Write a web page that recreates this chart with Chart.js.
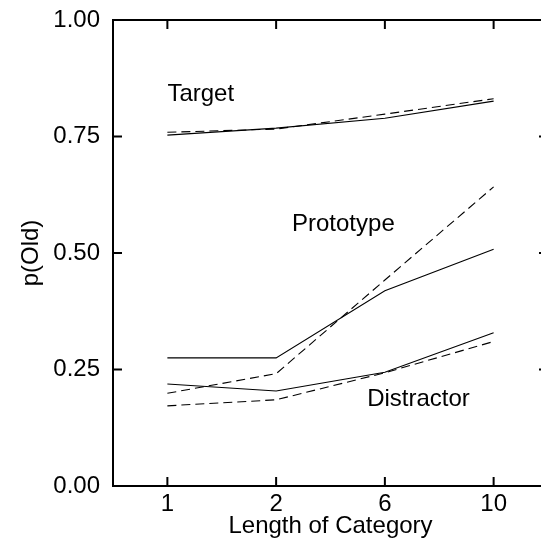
<!DOCTYPE html>
<html>
<head>
<meta charset="utf-8">
<script src="https://cdn.jsdelivr.net/npm/chart.js@4/dist/chart.umd.min.js"></script>
<style>
  html, body { margin: 0; padding: 0; background: #fff; overflow: hidden; }
  #wrap { width: 541px; height: 539px; overflow: hidden; }
  #chart { display: block; width: 560px; height: 539px; }
</style>
</head>
<body>
<div id="wrap"><canvas id="chart" width="560" height="539"></canvas></div>
<script>
// category lengths on the x axis
const lengths = ["1", "2", "6", "10"];
const yTicks = [0, 0.25, 0.5, 0.75, 1];

// solid lines
const targetObserved = [0.753, 0.768, 0.789, 0.826];
const prototypeObserved = [0.275, 0.275, 0.419, 0.508];
const distractorObserved = [0.219, 0.204, 0.244, 0.329];

// dashed lines
const targetPredicted = [0.759, 0.766, 0.798, 0.831];
const prototypePredicted = [0.199, 0.241, 0.442, 0.642];
const distractorPredicted = [0.172, 0.185, 0.243, 0.310];

// text labels inside the plot (x = category index, y = baseline value)
const curveLabels = [
  { text: "Target", x: 0, y: 0.826 },
  { text: "Prototype", x: 1.146, y: 0.547 },
  { text: "Distractor", x: 1.837, y: 0.172 },
];

const FONT = "'Liberation Sans', Arial, sans-serif";
const FSIZE = 24;

function line(data, dashed) {
  return {
    data: data,
    borderColor: "#000",
    borderWidth: 1.1,
    borderDash: dashed ? [9, 5] : [],
    pointRadius: 0,
    fill: false,
    tension: 0,
  };
}

// frame on top/right plus inward tick marks, and curve labels
const framePlugin = {
  id: "frame",
  afterDraw(chart) {
    const { ctx, chartArea: a, scales } = chart;
    ctx.save();
    ctx.strokeStyle = "#000";
    ctx.lineWidth = 2;
    ctx.beginPath();
    ctx.moveTo(a.left, a.top);
    ctx.lineTo(a.right, a.top);
    ctx.lineTo(a.right, a.bottom);
    ctx.stroke();

    const tl = 9;
    ctx.beginPath();
    yTicks.forEach((v) => {
      const py = scales.y.getPixelForValue(v);
      ctx.moveTo(a.left, py);
      ctx.lineTo(a.left + tl, py);
      ctx.moveTo(a.right, py);
      ctx.lineTo(a.right - tl, py);
    });
    lengths.forEach((c, i) => {
      const px = scales.x.getPixelForValue(i);
      ctx.moveTo(px, a.bottom);
      ctx.lineTo(px, a.bottom - tl);
      ctx.moveTo(px, a.top);
      ctx.lineTo(px, a.top + tl);
    });
    ctx.stroke();

    ctx.fillStyle = "#000";
    ctx.font = FSIZE + "px " + FONT;
    ctx.textAlign = "left";
    ctx.textBaseline = "alphabetic";
    curveLabels.forEach((l) => {
      ctx.fillText(l.text, scales.x.getPixelForValue(l.x), scales.y.getPixelForValue(l.y));
    });
    ctx.restore();
  },
};

const chart = new Chart(document.getElementById("chart"), {
  type: "line",
  data: {
    labels: lengths,
    datasets: [
      line(targetObserved, false),
      line(targetPredicted, true),
      line(prototypeObserved, false),
      line(prototypePredicted, true),
      line(distractorObserved, false),
      line(distractorPredicted, true),
    ],
  },
  options: {
    responsive: false,
    animation: false,
    devicePixelRatio: 1,
    layout: { padding: { top: 20, right: 12, left: 0, bottom: 0 } },
    plugins: {
      legend: { display: false },
      tooltip: { enabled: false },
    },
    scales: {
      x: {
        type: "category",
        offset: true,
        grid: { display: false, drawTicks: false },
        border: { display: true, color: "#000", width: 2 },
        ticks: { color: "#000", font: { family: FONT, size: FSIZE }, padding: 4, maxRotation: 0 },
        title: {
          display: true,
          text: "Length of Category",
          color: "#000",
          font: { family: FONT, size: FSIZE },
          padding: { top: 0, bottom: -2 },
        },
        afterFit(scale) {
          scale.height = 53;
          scale.paddingLeft = 0;
          scale.paddingRight = 0;
        },
      },
      y: {
        min: 0,
        max: 1,
        grid: { display: false, drawTicks: false },
        border: { display: true, color: "#000", width: 2 },
        ticks: {
          stepSize: 0.25,
          color: "#000",
          font: { family: FONT, size: FSIZE },
          padding: 13,
          callback: (v) => v.toFixed(2),
        },
        title: {
          display: true,
          text: "p(Old)",
          color: "#000",
          font: { family: FONT, size: FSIZE },
          padding: { top: 17, bottom: 0 },
        },
        afterFit(scale) {
          scale.width = 113;
          scale.paddingTop = 0;
          scale.paddingBottom = 0;
        },
      },
    },
  },
  plugins: [framePlugin],
});
</script>
</body>
</html>
